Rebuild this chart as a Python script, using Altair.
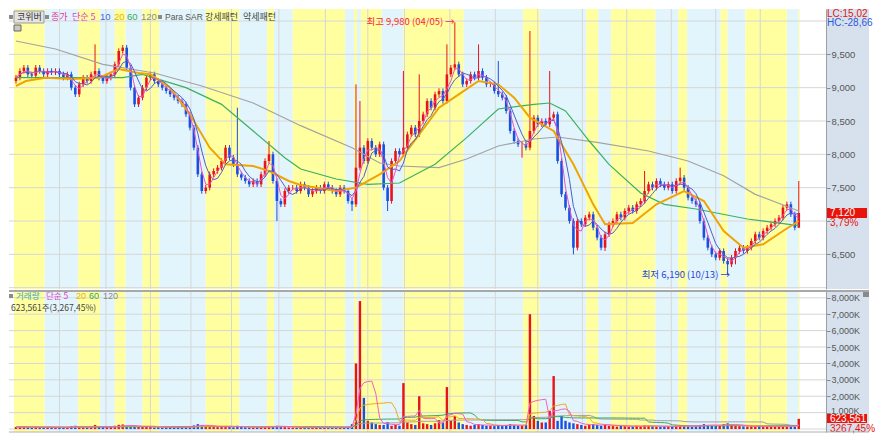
import altair as alt
import pandas as pd

# ---------------- data ----------------
close = [
    9150, 9250, 9300, 9200, 9180, 9300, 9250, 9200, 9250, 9230,
    9250, 9200, 9150, 9200, 9000, 8900, 9050, 9150, 9100, 9200,
    9250, 9150, 9100, 9150, 9200, 9350, 9550, 9600, 9300, 9000,
    8750, 8850, 9000, 9150, 9200, 9100, 9050, 9000, 8950, 8900,
    8850, 8800, 8750, 8600, 8400, 8100, 7700, 7450, 7500, 7700,
    7750, 7800, 7900, 8100, 7950, 7850, 7700, 7650, 7600, 7550,
    7600, 7550, 7700, 7900, 8000, 7600, 7300, 7250, 7450, 7500,
    7500, 7450, 7550, 7500, 7400, 7450, 7500, 7450, 7550, 7500,
    7450, 7400, 7500, 7450, 7300, 7250, 7800, 8100, 7900, 8200,
    8100, 8000, 8150, 7500, 7300, 7900, 8050, 8000, 8100, 8300,
    8400, 8300, 8500, 8600, 8800, 8700, 8900, 8950, 8800, 9200,
    9300, 9350, 9200, 9050, 9100, 9200, 9150, 9250, 9150, 9050,
    9050, 8950, 8900, 8850, 8650, 8350, 8200, 8150, 8150, 8100,
    8350, 8550, 8450, 8500, 8450, 8550, 8600, 7900, 7400, 7200,
    7000, 6600, 7000, 6950, 7050, 7100, 6900, 6750, 6600, 6800,
    6950, 7000, 7100, 7050, 7150, 7200, 7150, 7250, 7300, 7450,
    7550, 7500, 7600, 7550, 7500, 7550, 7450, 7600, 7650, 7500,
    7350, 7300, 7250, 7000, 6750, 6600, 6500, 6450, 6550, 6400,
    6350, 6450, 6550, 6600, 6550, 6600, 6700, 6800, 6750, 6850,
    6900, 6950, 7000, 7050, 7200, 7250, 7100, 6900, 7120,
]
first_open = 9100
high_spikes = {20: 9650, 56: 8700, 64: 8200, 86: 9050, 87: 8800, 98: 9250,
               102: 9200, 109: 9650, 111: 9980, 117: 9650, 122: 9400,
               130: 9850, 135: 9250, 159: 7750, 168: 7800, 198: 7600}
low_spikes = {66: 7000, 85: 7150, 94: 7150, 128: 7950, 141: 6500,
              149: 6550, 180: 6190, 182: 6350, 198: 6900}

volume_k = [
    120, 150, 130, 100, 90, 140, 110, 100, 130, 90,
    100, 120, 90, 110, 180, 200, 130, 110, 100, 120,
    250, 150, 120, 110, 130, 200, 260, 280, 180, 150,
    200, 140, 130, 150, 120, 100, 110, 90, 100, 110,
    100, 90, 110, 150, 180, 220, 300, 250, 180, 150,
    130, 120, 150, 180, 130, 110, 200, 130, 110, 100,
    100, 110, 130, 160, 180, 150, 200, 160, 120, 100,
    90, 80, 100, 90, 80, 90, 100, 80, 90, 80,
    90, 80, 100, 90, 120, 300, 4000, 7800, 1900, 500,
    400, 300, 250, 250, 430, 200, 250, 200, 2800, 400,
    300, 250, 2000, 350, 300, 250, 350, 550, 400, 2560,
    500, 800, 400, 300, 250, 200, 250, 300, 250, 200,
    200, 180, 250, 200, 250, 300, 250, 200, 200, 250,
    7000, 800, 500, 400, 400, 1100, 3230, 500, 800, 500,
    400, 350, 300, 250, 200, 250, 300, 250, 200, 300,
    200, 180, 150, 200, 180, 150, 160, 200, 180, 220,
    200, 180, 160, 150, 170, 160, 150, 200, 220, 180,
    160, 150, 200, 250, 300, 250, 220, 200, 250, 300,
    350, 250, 200, 180, 160, 150, 170, 160, 180, 150,
    160, 150, 170, 180, 200, 170, 160, 150, 624,
]

ma20_idx = [0, 2.5, 7.5, 14, 21, 26, 31, 34, 39, 44, 49, 53, 60, 64, 69, 72, 81, 86, 92, 97,
            102, 107, 112, 117, 122, 126, 130, 136, 141, 146, 149, 156, 162, 169, 174, 179,
            184, 189, 194, 198]
ma20_val = [9025, 9100, 9150, 9130, 9150, 9280, 9220, 9200, 9000, 8600, 8100, 7850, 7825,
            7750, 7600, 7540, 7450, 7500, 7700, 7900, 8300, 8700, 8900, 9100, 9050, 8850,
            8550, 8350, 7850, 7250, 6950, 6970, 7250, 7450, 7300, 6850, 6600, 6650, 6850, 7000]
ma60_idx = [0, 18, 27, 32, 43, 52, 60, 68, 72, 81, 89, 97, 106, 114, 122, 131, 135, 139,
            145, 150, 158, 164, 172, 185, 198]
ma60_val = [9150, 9150, 9150, 9200, 9000, 8750, 8350, 7950, 7780, 7630, 7550, 7570, 7850,
            8250, 8680, 8750, 8770, 8650, 8200, 7850, 7420, 7250, 7180, 7030, 6930]
ma120_idx = [0, 10, 22, 35, 47, 60, 72, 85, 92, 97, 107, 114, 122, 131, 137, 147, 160, 170,
             179, 187, 198]
ma120_val = [9700, 9580, 9350, 9220, 9025, 8770, 8430, 8100, 7870, 7825, 7800, 7930, 8125,
             8230, 8260, 8180, 8050, 7900, 7680, 7400, 7150]

month_grid_idx = [11, 22.75, 34, 44.25, 54.5, 66.5, 78.25, 89, 98.25, 109.75, 121.25, 132,
                  143.25, 154.5, 165.75, 177, 188.25]
band_edges = [-0.5, 7.25, 15.75, 21.25, 25, 27.75, 32, 36.25, 48, 56.5, 63.5, 65.25, 70,
              83.25, 85.5, 86.25, 87.25, 92.5, 98, 113.25, 128.25, 132.5, 144.25, 147.25,
              150.5, 161.75, 167.5, 169.75, 178.25, 180, 184.5, 195, 198, 198.25]
price_grid = [6000, 6500, 7000, 7500, 8000, 8500, 9000, 9500, 10000]
price_ticks = [6500, 7000, 7500, 8000, 8500, 9000, 9500]
vol_grid = [0, 1000, 2000, 3000, 4000, 5000, 6000, 7000, 8000]
vol_ticks = [1000, 2000, 3000, 4000, 5000, 6000, 7000, 8000]

# ---------------- styling ----------------
W, H1, H2 = 860, 280, 141
PANEL_X = 817
RED, BLUE = "#e8141c", "#1a4fe0"
YEL, CYAN = "#ffff9f", "#e3f5fc"
GRID = "#d6d6d6"
KOR = "Noto Sans CJK KR"
NUMF = "Liberation Sans Narrow, Liberation Sans, sans-serif"

n = len(close)
opens = [first_open] + close[:-1]
rows = []
for i in range(n):
    o, c = opens[i], close[i]
    up = c >= o
    rows.append({
        "i": i, "open": o, "close": c,
        "high": high_spikes.get(i, max(o, c) + 40),
        "low": low_spikes.get(i, min(o, c) - 40),
        "vol": volume_k[i],
        "col": RED if up else BLUE,
    })
df = pd.DataFrame(rows)
df["ma5"] = df["close"].rolling(3, min_periods=1).mean()
df["ma10"] = df["close"].rolling(5, min_periods=1).mean()
df["v5"] = df["vol"].rolling(5, min_periods=1).mean()
df["v20"] = df["vol"].rolling(10, min_periods=1).mean()
df["v60"] = df["vol"].rolling(30, min_periods=1).mean()
df["v120"] = df["vol"].rolling(60, min_periods=1).mean()

bands = pd.DataFrame({
    "x0": band_edges[:-1], "x1": band_edges[1:],
    "col": [YEL if k % 2 == 0 else CYAN for k in range(len(band_edges) - 1)],
})

xs = alt.Scale(domain=[-0.5, 214.5], nice=False, zero=False)
ps = alt.Scale(domain=[5980, 10180], nice=False, zero=False)
vs = alt.Scale(domain=[-180, 8415], nice=False, zero=False)

paxis = alt.Axis(orient="right", offset=-43, values=price_ticks,
                 labelExpr="datum.value == 7000 ? '' : format(datum.value, ',')",
                 grid=False, domainColor="#9aa0a8", tickColor="#8a8a8a", tickSize=4,
                 labelColor="#555555", labelFont=NUMF, labelFontSize=9.5, labelPadding=1,
                 title=None, zindex=1, labelFlush=False, labelOverlap=False)
vaxis = alt.Axis(orient="right", offset=-43, values=vol_ticks,
                 labelExpr="datum.value == 1000 ? '' : format(datum.value, ',') + 'K'",
                 grid=False, domainColor="#9aa0a8", tickColor="#8a8a8a", tickSize=4,
                 labelColor="#555555", labelFont=NUMF, labelFontSize=9, labelPadding=1,
                 title=None, zindex=1, labelFlush=False, labelOverlap=False)


def X(f):
    return alt.X(f, scale=xs, axis=None)


def PY(f):
    return alt.Y(f, scale=ps, axis=paxis)


def VY(f):
    return alt.Y(f, scale=vs, axis=vaxis)


one = pd.DataFrame({"a": [0]})


def label(text, x, y, color, size=9, align="left", font=KOR, baseline="middle"):
    return alt.Chart(one).mark_text(text=text, align=align, baseline=baseline, color=color,
                                    fontSize=size, font=font).encode(
        x=alt.value(x), y=alt.value(y))


def box(x, x2, y, y2, fill, stroke=None):
    kw = {"fill": fill}
    if stroke:
        kw["stroke"] = stroke
        kw["strokeWidth"] = 1
    return alt.Chart(one).mark_rect(**kw).encode(
        x=alt.value(x), x2=alt.value(x2), y=alt.value(y), y2=alt.value(y2))


def common(h):
    bg = alt.Chart(bands).mark_rect().encode(
        x=X("x0:Q"), x2="x1:Q", y=alt.value(0), y2=alt.value(h),
        color=alt.Color("col:N", scale=None))
    vg = alt.Chart(pd.DataFrame({"g": month_grid_idx})).mark_rule(
        color=GRID, strokeWidth=1).encode(x=X("g:Q"), y=alt.value(0), y2=alt.value(h))
    panel = box(PANEL_X, W, 0, h, "#d7e1ee")
    return [bg, vg, panel]


# ---------------- price panel ----------------
hgrid = alt.Chart(pd.DataFrame({"p": price_grid})).mark_rule(color=GRID, strokeWidth=1).encode(
    x=alt.value(0), x2=alt.value(PANEL_X), y=PY("p:Q"))
wicks = alt.Chart(df).mark_rule(strokeWidth=1).encode(
    x=X("i:Q"), y=PY("low:Q"), y2="high:Q", color=alt.Color("col:N", scale=None))
bodies = alt.Chart(df).mark_bar(size=2.6).encode(
    x=X("i:Q"), y=PY("open:Q"), y2="close:Q", color=alt.Color("col:N", scale=None))


def ma_line(idx, val, color, width):
    d = pd.DataFrame({"i": idx, "v": val})
    return alt.Chart(d).mark_line(color=color, strokeWidth=width).encode(x=X("i:Q"), y=PY("v:Q"))


l120 = ma_line(ma120_idx, ma120_val, "#a3a3a3", 1.2)
l60 = ma_line(ma60_idx, ma60_val, "#3cb060", 1.2)
l20 = ma_line(ma20_idx, ma20_val, "#f0a400", 2)
l10 = alt.Chart(df).mark_line(color="#5060c8", strokeWidth=1).encode(x=X("i:Q"), y=PY("ma10:Q"))
l5 = alt.Chart(df).mark_line(color="#f050c0", strokeWidth=1).encode(x=X("i:Q"), y=PY("ma5:Q"))

ann = pd.DataFrame({
    "i": [111.0, 180.6], "p": [9980, 6190],
    "t": ["최고 9,980 (04/05) →", "최저 6,190 (10/13) →"],
    "c": ["#ff2a2a", "#2a44dd"],
})
ann_t = alt.Chart(ann).mark_text(align="right", baseline="middle", fontSize=9.5, font=KOR).encode(
    x=X("i:Q"), y=PY("p:Q"), text="t:N", color=alt.Color("c:N", scale=None))

last_box = alt.Chart(pd.DataFrame({"a": [7195], "b": [7045]})).mark_rect(color="#e8140c").encode(
    x=alt.value(818), x2=alt.value(858), y=PY("a:Q"), y2="b:Q")
last_txt = alt.Chart(pd.DataFrame({"p": [7120, 6965], "t": ["7,120", "3,79%"],
                                   "c": ["#ffffff", "#e8140c"]})).mark_text(
    align="left", baseline="middle", fontSize=10, font=NUMF).encode(
    x=alt.value(821), y=PY("p:Q"), text="t:N", color=alt.Color("c:N", scale=None))

legend_top = [
    box(5, 35, 2, 14, "#e4e4e4", "#9a9a9a"),
    box(0, 4, 6, 10, "#8a8a8a"),
    label("코위버", 8, 8, "#333333", 9),
    box(36, 40, 6, 10, "#8a8a8a"),
    label("종가", 42, 8, "#e8309c", 9),
    label("단순 5", 63, 8, "#e040c8", 9),
    label("10", 91, 8, "#4466dd", 9.5, font=NUMF),
    label("20", 105, 8, "#e8b400", 9.5, font=NUMF),
    label("60", 118, 8, "#33aa55", 9.5, font=NUMF),
    label("120", 132, 8, "#8a8a8a", 9.5, font=NUMF),
    box(149, 153, 6, 10, "#8a8a8a"),
    label("Para SAR", 156, 8, "#555555", 8.5, font=NUMF),
    label("강세패턴", 196, 8, "#444444", 9),
    label("약세패턴", 234, 8, "#444444", 9),
    box(5, 12, 16, 22, "#c8c8c8", "#666666"),
    label("LC:15,02", 818, 5, "#e8140c", 10, font=NUMF),
    label("HC:-28,66", 818, 14, "#2a5ad8", 10, font=NUMF),
]

price = alt.layer(
    *common(H1), hgrid, wicks, bodies, l120, l60, l20, l10, l5, ann_t, last_box, last_txt,
    *legend_top,
).properties(width=W, height=H1)

# ---------------- volume panel ----------------
vgrid_h = alt.Chart(pd.DataFrame({"v": vol_grid})).mark_rule(color=GRID, strokeWidth=1).encode(
    x=alt.value(0), x2=alt.value(PANEL_X), y=VY("v:Q"))
vbars = alt.Chart(df).mark_bar(size=2.4).encode(
    x=X("i:Q"), y=VY("vol:Q"), y2=alt.datum(0), color=alt.Color("col:N", scale=None))


def vline(field, color, width=1):
    return alt.Chart(df).mark_line(color=color, strokeWidth=width).encode(x=X("i:Q"), y=VY(field))


vl120 = vline("v120:Q", "#a0a0a0")
vl60 = vline("v60:Q", "#3aa860")
vl20 = vline("v20:Q", "#f0a820")
vl5 = vline("v5:Q", "#f060c8")

k1000 = alt.Chart(pd.DataFrame({"v": [1080], "t": ["1,000K"]})).mark_text(
    align="left", baseline="middle", fontSize=9, font=NUMF, color="#555555").encode(
    x=alt.value(822), y=VY("v:Q"), text="t:N")
vbox = alt.Chart(pd.DataFrame({"a": [915], "b": [366]})).mark_rect(color="#e8140c").encode(
    x=alt.value(818), x2=alt.value(858), y=VY("a:Q"), y2="b:Q")
vtxt = alt.Chart(pd.DataFrame({"v": [640, 10], "t": ["623,561", "3267,45%"],
                               "c": ["#ffffff", "#e8140c"]})).mark_text(
    align="left", baseline="middle", fontSize=10, font=NUMF).encode(
    x=alt.value(821), y=VY("v:Q"), text="t:N", color=alt.Color("c:N", scale=None))

sep_top = alt.Chart(one).mark_rule(color="#a8a8a8", strokeWidth=2).encode(
    x=alt.value(0), x2=alt.value(W), y=alt.value(0))
sep_bot = alt.Chart(one).mark_rule(color="#b0b0b0", strokeWidth=1).encode(
    x=alt.value(0), x2=alt.value(W), y=alt.value(H2))

legend_vol = [
    box(0, 4, 3, 7, "#8a8a8a"),
    label("거래량", 7, 5, "#3aa8b8", 8.5),
    label("단순 5", 37, 5, "#e040c8", 8.5),
    label("20", 67, 5, "#e8b400", 9, font=NUMF),
    label("60", 80, 5, "#33aa55", 9, font=NUMF),
    label("120", 94, 5, "#8a8a8a", 9, font=NUMF),
    label("623,561주(3,267,45%)", 2, 16.5, "#444444", 8.5),
    box(854, 860, 1, 6, "#8a8a8a"),
]

volume = alt.layer(
    *common(H2), vgrid_h, vbars, vl120, vl60, vl20, vl5, k1000, vbox, vtxt,
    sep_top, sep_bot, *legend_vol,
).properties(width=W, height=H2)

chart = alt.vconcat(price, volume, spacing=0).properties(
    padding={"left": 0, "top": 0, "right": 0, "bottom": 0}
).configure_view(stroke=None).configure_concat(spacing=0)

chart.save("out.html", embed_options={"renderer": "svg", "actions": False})
